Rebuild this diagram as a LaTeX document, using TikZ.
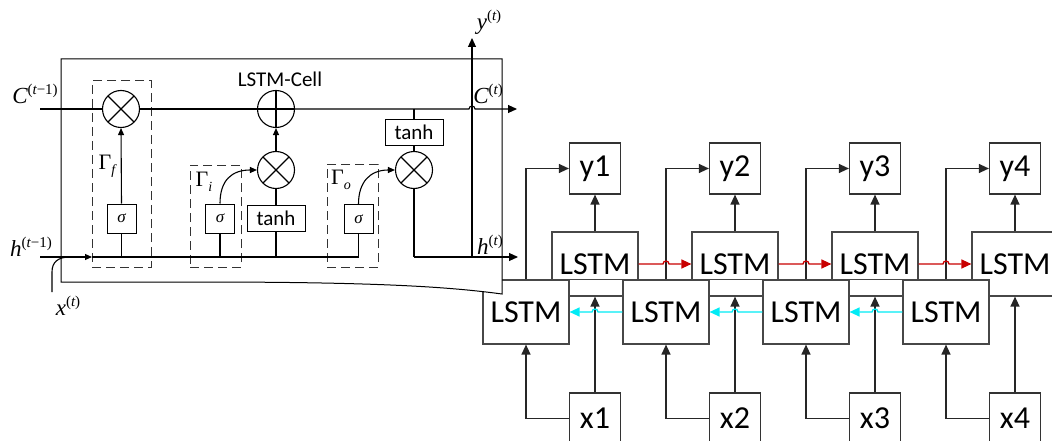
\documentclass[tikz,border=0pt]{standalone}
\usepackage{fontspec}
\setmainfont{Carlito}
\newfontfamily\tnr{Liberation Serif}
\usetikzlibrary{arrows.meta,calc}
\definecolor{mycyan}{RGB}{0,235,245}
\definecolor{myred}{RGB}{200,0,0}
\newcommand{\mylbl}[2]{{\tnr\fontsize{23}{23}\selectfont\itshape #1\raisebox{9pt}{\fontsize{15}{15}\selectfont\upshape(#2)}}}
\newcommand{\mygam}[1]{{\tnr\fontsize{22}{22}\selectfont Γ\raisebox{-5pt}{\fontsize{14}{14}\selectfont\itshape #1}}}
\tikzset{
  ln/.style={line width=1.1pt, black},
  tip/.style={-{Triangle[length=7pt,width=6pt]}},
  bigtip/.style={-{Triangle[length=9pt,width=8pt]}},
  opc/.style={circle, draw, fill=white, minimum size=37pt, inner sep=0pt, line width=1.1pt},
  otimes/.style={opc, path picture={
      \draw[line width=1.1pt] ([shift={(45:18.5pt)}]path picture bounding box.center) -- ([shift={(225:18.5pt)}]path picture bounding box.center);
      \draw[line width=1.1pt] ([shift={(135:18.5pt)}]path picture bounding box.center) -- ([shift={(315:18.5pt)}]path picture bounding box.center);}},
  oplus/.style={opc, path picture={
      \draw[line width=1.1pt] (path picture bounding box.north) -- (path picture bounding box.south);
      \draw[line width=1.1pt] (path picture bounding box.west) -- (path picture bounding box.east);}},
  sigbox/.style={draw, fill=white, line width=1pt, minimum width=29pt, minimum height=29pt, inner sep=0pt, font=\tnr\itshape\fontsize{17}{17}\selectfont},
  tanhbox/.style={draw, fill=white, line width=1pt, minimum width=58pt, minimum height=26pt, inner sep=0pt, font=\fontsize{21}{21}\selectfont},
  gatebox/.style={draw=black!80, line width=1pt, dash pattern=on 9pt off 5pt, inner sep=0pt},
  lstmbox/.style={draw=black!72, fill=white, line width=1.2pt, minimum width=86pt, minimum height=64pt, inner sep=0pt, font=\fontsize{32}{32}\selectfont},
  iobox/.style={draw=black!80, fill=white, line width=1.2pt, minimum width=51pt, minimum height=51pt, inner sep=0pt, font=\fontsize{32}{32}\selectfont},
  ar/.style={line width=1.3pt, black!85, -{Triangle[length=10pt,width=9pt]}},
  redar/.style={line width=1.3pt, myred, -{Triangle[length=10pt,width=9pt]}},
  cyanar/.style={line width=1.3pt, mycyan, -{Triangle[length=10pt,width=9pt]}},
}
\begin{document}
\begin{tikzpicture}[x=1pt,y=-1pt]
\useasboundingbox (0,0) rectangle (1052,441);
\clip (0,0) rectangle (1052,441);

% ---------------- right part: bidirectional LSTM ----------------
\foreach \i in {0,...,3}{
  \node[lstmbox] (u\i) at ({595+140*\i},264) {LSTM};
}
\foreach \i in {0,...,3}{
  \node[lstmbox] (l\i) at ({526+140*\i},312) {LSTM};
  \node[iobox] (y\i) at ({595+140*\i},168.5) {y\the\numexpr\i+1\relax};
  \node[iobox] (x\i) at ({595+140*\i},418.5) {x\the\numexpr\i+1\relax};
  \coordinate (jr\i) at ({666+140*\i},264);
  \coordinate (jc\i) at ({595+140*\i},312);
}
\foreach \i/\j in {0/1,1/2,2/3}{
  \draw[line width=1.2pt, black!72] (l\i.north east) -- (l\j.north west);
}
\foreach \i in {0,...,3}{
  \draw[ar] (l\i.north) |- (y\i.west);
  \draw[ar] (u\i.north) -- (y\i.south);
  \draw[ar] (x\i.west) -| (l\i.south);
  \draw[ar] (x\i.north) -- (x\i.north |- u\i.south);
}
\foreach \i/\j in {0/1,1/2,2/3}{
  \draw[redar] (u\i.east) -- ([xshift=-3pt]jr\i) arc[start angle=180,end angle=0,radius=3pt] -- (u\j.west);
  \draw[cyanar] (l\j.west) -- ([xshift=3pt]jc\i) arc[start angle=0,end angle=180,radius=3pt] -- (l\i.east);
}

% ---------------- left part: LSTM cell ----------------
\draw[line width=1pt, fill=white] (61,59) -- (502,59) -- (502,294)
  .. controls (450,287) and (380,282) .. (200,282) -- (61,282) -- cycle;

\node[gatebox, minimum width=59pt, minimum height=186pt] (gf) at (121.5,174) {};
\node[gatebox, minimum width=51pt, minimum height=102pt] (gi) at (215.5,216) {};
\node[gatebox, minimum width=51pt, minimum height=103pt] (go) at (352.5,215.5) {};

\coordinate (cin) at (40,109);
\coordinate (hin) at (40,257);
\coordinate (xin) at (52,292);
\coordinate (hj) at (70,257);
\coordinate (hg) at (92,257);
\coordinate (hend) at (358.5,257);
\coordinate (ctap) at (414,109);
\coordinate (hcorner) at (414,257);
\coordinate (jy) at (472,109);
\coordinate (ybase) at (472,257);
\coordinate (yout) at (472,38);
\coordinate (cout) at (517,109);
\coordinate (hout) at (518,257);

\node[otimes] (fg) at (121,109) {};
\node[oplus] (pl) at (276,109) {};
\node[otimes] (ig) at (276,170) {};
\node[otimes] (og) at (414,170) {};
\node[sigbox] (sf) at (121.5,218.5) {σ};
\node[sigbox] (si) at (220,218.5) {σ};
\node[sigbox] (so) at (358.5,219) {σ};
\node[tanhbox] (ti) at (276,218) {tanh};
\node[tanhbox] (to) at (414,132.5) {tanh};

% cell state line
\draw[ln] (cin) -- (fg.west);
\draw[ln] (fg.east) -- (pl.west);
\draw[ln, bigtip] (pl.east) -- ([xshift=-3pt]jy) arc[start angle=180,end angle=0,radius=3pt] -- (cout);
\draw[ln] (ctap) -- (to.north);
\draw[ln] (to.south) -- (og.north);

% hidden / input line
\draw[ln, tip] (hin) -- (hg);
\draw[ln] (hg) -- (hend);
\draw[ln] (xin) -- (52,272) .. controls (52,262) and (58,257) .. (hj);

% forget gate
\draw[ln] (sf.south) -- (sf.south |- hin);
\draw[ln, tip] (sf.north) -- (fg.south);
% input gate
\draw[ln] (si.south) -- (si.south |- hin);
\draw[ln, tip] (si.north) .. controls (220,180) and (232,170) .. (ig.west);
\draw[ln] (ti.south) -- (ti.south |- hin);
\draw[ln] (ti.north) -- (ig.south);
\draw[ln, tip] (ig.north) -- (pl.south);
% output gate
\draw[ln] (so.south) -- (hend);
\draw[ln, tip] (so.north) .. controls (358.5,182) and (370,170) .. (og.west);
\draw[ln] (og.south) -- (hcorner);
\draw[ln, bigtip] (hcorner) -- (hout);
\draw[ln, bigtip] (ybase) -- (yout);

% labels
\node (lc) at (280,79) {\fontsize{21}{21}\selectfont LSTM-Cell};
\node (lcp) at (35,94) {\mylbl{C}{{\itshape t}−1}};
\node (lhp) at (31,247) {\mylbl{h}{{\itshape t}−1}};
\node (lx) at (68,306) {\mylbl{x}{{\itshape t}}};
\node (ly) at (489,22) {\mylbl{y}{{\itshape t}}};
\node (lcn) at (488,94) {\mylbl{C}{{\itshape t}}};
\node (lhn) at (490,245) {\mylbl{h}{{\itshape t}}};
\node (gfl) at (107,166) {\mygam{f}};
\node (gil) at (204,182) {\mygam{i}};
\node (gol) at (341,180) {\mygam{o}};
\end{tikzpicture}
\end{document}
